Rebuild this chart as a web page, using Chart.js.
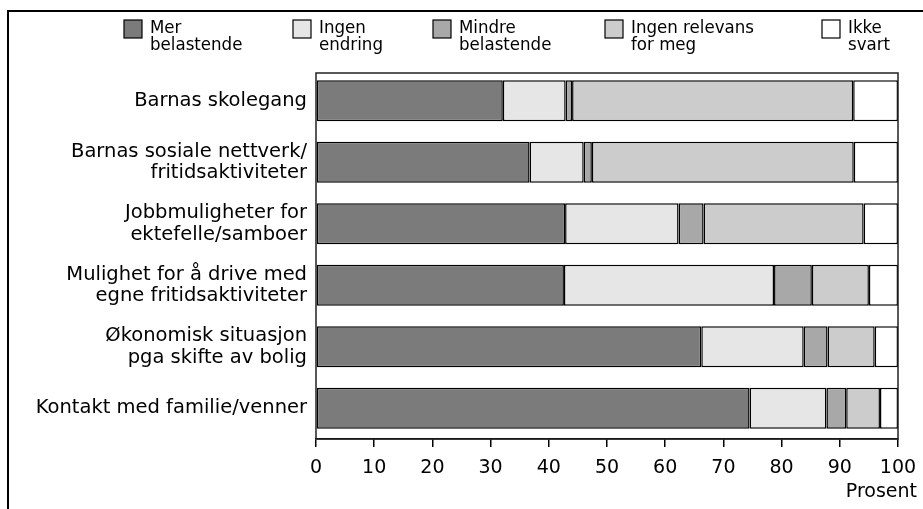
<!DOCTYPE html>
<html>
<head>
<meta charset="utf-8">
<script src="https://cdn.jsdelivr.net/npm/chart.js@4.4.1/dist/chart.umd.min.js"></script>
<style>
  html, body { margin: 0; padding: 0; background: #fff; }
  #wrap { position: relative; width: 923px; height: 509px; }
</style>
</head>
<body>
<div id="wrap"><canvas id="grafico"></canvas></div>
<script>
// kategorier (y-aksen), en linje per element
const kategorier = [
  ['Barnas skolegang'],
  ['Barnas sosiale nettverk/', 'fritidsaktiviteter'],
  ['Jobbmuligheter for', 'ektefelle/samboer'],
  ['Mulighet for å drive med', 'egne fritidsaktiviteter'],
  ['Økonomisk situasjon', 'pga skifte av bolig'],
  ['Kontakt med familie/venner']
]

// serienavn (forklaring)
const serieNavn = [
  ['Mer', 'belastende'],
  ['Ingen', 'endring'],
  ['Mindre', 'belastende'],
  ['Ingen relevans', 'for meg'],
  ['Ikke', 'svart']
]

// verdier i prosent
const merBelastende    = [32.1, 36.7, 42.8, 42.6, 66.2, 74.5]
const ingenEndring     = [10.8,  9.3, 19.5, 36.1, 17.6, 13.2]
const mindreBelastende = [ 1.1,  1.4,  4.3,  6.5,  4.1,  3.4]
const ingenRelevans    = [48.3, 45.0, 27.5,  9.8,  8.1,  5.8]
const ikkeSvart        = [ 7.7,  7.6,  5.9,  5.0,  4.0,  3.1]

const xTicks = [0, 10, 20, 30, 40, 50, 60, 70, 80, 90, 100]
const xTittel = 'Prosent'

const farger = ['#7b7b7b', '#e6e6e6', '#a8a8a8', '#cccccc', '#ffffff']
const serier = [merBelastende, ingenEndring, mindreBelastende, ingenRelevans, ikkeSvart]

const fontNormal = "19px 'DejaVu Sans'"
const fontSmal = "18.5px 'DejaVu Sans Condensed', 'DejaVu Sans'"

// x-posisjon for hver forklaringsboks
const legendX = [124, 293, 433, 605, 822]

const rammePlugin = {
  id: 'ramme',
  beforeDraw(chart) {
    const ctx = chart.ctx
    ctx.save()
    ctx.fillStyle = '#fff'
    ctx.fillRect(0, 0, chart.width, chart.height)
    ctx.restore()
  },
  afterDraw(chart) {
    const ctx = chart.ctx
    const a = chart.chartArea
    ctx.save()
    // ytre ramme
    ctx.strokeStyle = '#000'
    ctx.lineWidth = 2
    ctx.beginPath()
    ctx.moveTo(8, chart.height + 2)
    ctx.lineTo(8, 11)
    ctx.lineTo(chart.width + 2, 11)
    ctx.stroke()

    // ramme rundt plottet
    ctx.strokeStyle = '#222'
    ctx.lineWidth = 1.5
    ctx.strokeRect(a.left, a.top + 3, a.right - a.left, a.bottom - a.top - 3)

    // forklaring
    ctx.font = fontSmal
    ctx.textBaseline = 'middle'
    ctx.textAlign = 'left'
    serieNavn.forEach((navn, i) => {
      const x = legendX[i]
      ctx.fillStyle = farger[i]
      ctx.fillRect(x, 20, 18, 18)
      ctx.strokeStyle = '#000'
      ctx.lineWidth = 1.2
      ctx.strokeRect(x, 20, 18, 18)
      ctx.fillStyle = '#000'
      navn.forEach((linje, j) => {
        ctx.fillText(linje, x + 26, 28 + j * 17)
      })
    })

    // aksetittel
    ctx.font = fontNormal
    ctx.textAlign = 'right'
    ctx.fillText(xTittel, 917, 492)
    ctx.restore()
  }
}

const datasets = serier.map((verdier, i) => ({
  label: serieNavn[i].join(' '),
  data: verdier,
  backgroundColor: farger[i],
  borderColor: '#000',
  borderWidth: 1.5,
  borderSkipped: false
}))

new Chart(document.getElementById('grafico'), {
  type: 'bar',
  data: { labels: kategorier, datasets },
  options: {
    indexAxis: 'y',
    responsive: true,
    maintainAspectRatio: false,
    animation: false,
    datasets: { bar: { categoryPercentage: 0.667, barPercentage: 1 } },
    layout: { padding: { top: 70, right: 25, left: 0, bottom: 0 } },
    plugins: { legend: { display: false }, tooltip: { enabled: false } },
    scales: {
      x: {
        stacked: true,
        min: 0,
        max: 100,
        afterBuildTicks: (s) => { s.ticks = xTicks.map(v => ({ value: v })) },
        afterFit: (s) => { s.height = 70; s.paddingRight = 0; s.paddingLeft = 0 },
        border: { display: true, color: '#000', width: 1.5 },
        grid: { drawOnChartArea: false, drawTicks: true, tickLength: 8, color: '#000', lineWidth: 1.5 },
        ticks: { color: '#000', font: { family: 'DejaVu Sans', size: 19 }, padding: 10, maxRotation: 0 }
      },
      y: {
        stacked: true,
        afterFit: (s) => { s.width = 316 },
        border: { display: false },
        grid: { display: false },
        ticks: { color: '#000', font: { family: 'DejaVu Sans', size: 19.5, lineHeight: 1.1 }, padding: 1 }
      }
    }
  },
  plugins: [rammePlugin]
})
</script>
</body>
</html>
